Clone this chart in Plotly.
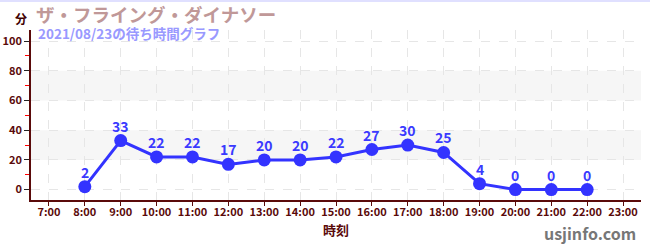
import plotly.graph_objects as go

hours = [8, 9, 10, 11, 12, 13, 14, 15, 16, 17, 18, 19, 20, 21, 22]
waits = [2, 33, 22, 22, 17, 20, 20, 22, 27, 30, 25, 4, 0, 0, 0]
tick_hours = list(range(7, 24))
tick_labels = [f"{h}:00" for h in tick_hours]
title = "ザ・フライング・ダイナソー"
subtitle = "2021/08/23の待ち時間グラフ"

font = "Noto Sans CJK JP"
axis_col = "#5a0a0a"

fig = go.Figure()
fig.add_trace(go.Scatter(
    x=hours, y=waits, mode="lines+markers",
    line=dict(color="#3333ff", width=3),
    marker=dict(color="#3333ff", size=13),
    cliponaxis=False, hoverinfo="skip",
))
for h, v in zip(hours, waits):
    fig.add_annotation(x=h, y=v, text=str(v), showarrow=False, yshift=15,
                       font=dict(color="#3a3aff", size=14, family=font, weight="bold"))

for lo, hi in [(20, 40), (60, 80)]:
    fig.add_shape(type="rect", xref="paper", x0=0, x1=1, yref="y", y0=lo, y1=hi,
                  fillcolor="#f6f6f6", line_width=0, layer="below")

fig.update_layout(
    width=650, height=250,
    margin=dict(l=31, r=9, t=30, b=50, autoexpand=False),
    paper_bgcolor="white", plot_bgcolor="white",
    showlegend=False,
    font=dict(family=font, color=axis_col),
    xaxis=dict(
        range=[6.5, 23.5], tickvals=tick_hours, ticktext=tick_labels,
        tickfont=dict(size=11, family=font, color=axis_col, weight="bold"),
        showgrid=True, gridcolor="#e6e6e6", griddash="dash", gridwidth=1,
        showline=True, linecolor=axis_col, linewidth=1.5,
        ticks="outside", ticklen=4, tickcolor=axis_col, ticklabelstandoff=-3,
        zeroline=False, fixedrange=True, automargin=False,
        title=dict(text="時刻", font=dict(size=13, family=font, color=axis_col, weight="bold"), standoff=8),
    ),
    yaxis=dict(
        range=[-7, 107.5], tickvals=[0, 20, 40, 60, 80, 100],
        tickfont=dict(size=11, family=font, color=axis_col, weight="bold"),
        showgrid=True, gridcolor="#e6e6e6", griddash="dash", gridwidth=1,
        showline=True, linecolor=axis_col, linewidth=1.5,
        ticks="outside", ticklen=5, tickcolor="#222",
        minor=dict(tickvals=[10, 30, 50, 70, 90], ticks="outside", ticklen=4, tickcolor="red", showgrid=False),
        zeroline=False, fixedrange=True, automargin=False,
    ),
)

fig.add_shape(type="line", xref="paper", yref="paper", x0=-0.06, x1=1.02, y0=1.17, y1=1.17,
              line=dict(color="#e0e0ff", width=2))

fig.add_annotation(text="分", xref="paper", yref="paper", x=-0.03, y=1.07, xanchor="left", yanchor="middle",
                   showarrow=False, font=dict(size=12, family=font, color="#400000", weight="bold"))
fig.add_annotation(text=title, xref="paper", yref="paper", x=0.005, y=1.095, xanchor="left", yanchor="middle",
                   showarrow=False, font=dict(size=18.5, family=font, color="#c09898", weight="bold"))
fig.add_annotation(text=subtitle, xref="paper", yref="paper", x=0.008, y=0.985, xanchor="left", yanchor="middle",
                   showarrow=False, font=dict(size=13.5, family=font, color="#9999ff", weight="bold"))
fig.add_annotation(text="usjinfo.com", xref="paper", yref="paper", x=0.995, y=-0.195, xanchor="right", yanchor="middle",
                   showarrow=False, font=dict(size=16, family=font, color="#777777", weight="bold"))

fig.write_html("out.html")
